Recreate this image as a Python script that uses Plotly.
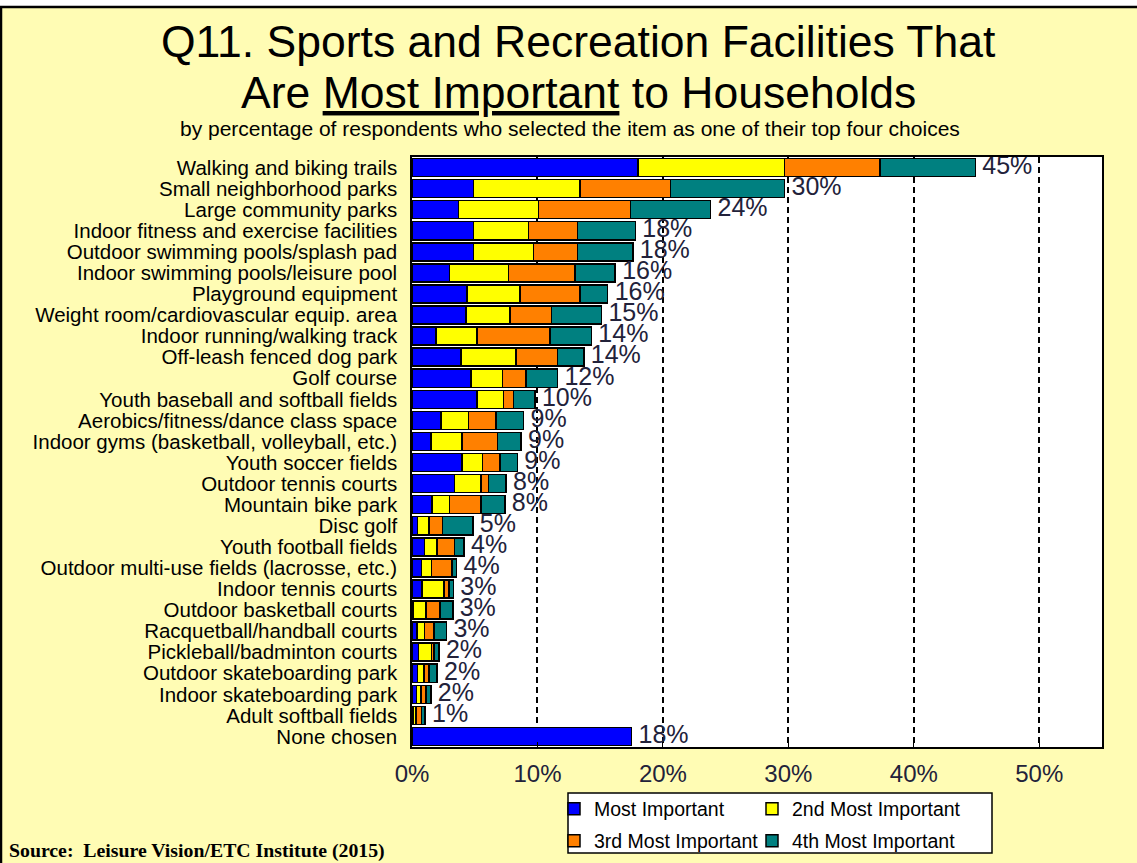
import plotly.graph_objects as go

# facilities, top to bottom
facilities = [
    "Walking and biking trails",
    "Small neighborhood parks",
    "Large community parks",
    "Indoor fitness and exercise facilities",
    "Outdoor swimming pools/splash pad",
    "Indoor swimming pools/leisure pool",
    "Playground equipment",
    "Weight room/cardiovascular equip. area",
    "Indoor running/walking track",
    "Off-leash fenced dog park",
    "Golf course",
    "Youth baseball and softball fields",
    "Aerobics/fitness/dance class space",
    "Indoor gyms (basketball, volleyball, etc.)",
    "Youth soccer fields",
    "Outdoor tennis courts",
    "Mountain bike park",
    "Disc golf",
    "Youth football fields",
    "Outdoor multi-use fields (lacrosse, etc.)",
    "Indoor tennis courts",
    "Outdoor basketball courts",
    "Racquetball/handball courts",
    "Pickleball/badminton courts",
    "Outdoor skateboarding park",
    "Indoor skateboarding park",
    "Adult softball fields",
    "None chosen",
]

most = [18.0, 4.9, 3.7, 4.9, 4.9, 3.0, 4.4, 4.3, 1.9, 3.9, 4.7, 5.2, 2.3, 1.5,
        4.0, 3.4, 1.6, 0.45, 1.0, 0.75, 0.8, 0.1, 0.4, 0.5, 0.45, 0.35, 0.1, 17.5]
second = [11.7, 8.5, 6.4, 4.4, 4.8, 4.7, 4.2, 3.5, 3.3, 4.4, 2.5, 2.1, 2.2, 2.5,
          1.6, 2.1, 1.4, 0.9, 1.0, 0.8, 1.75, 1.0, 0.6, 1.05, 0.5, 0.35, 0.2, None]
third = [7.6, 7.2, 7.3, 3.9, 3.5, 5.3, 4.8, 3.3, 5.8, 3.3, 1.9, 0.8, 2.2, 2.8,
         1.4, 0.6, 2.5, 1.1, 1.4, 1.65, 0.4, 1.15, 0.75, 0.2, 0.4, 0.4, 0.45, None]
fourth = [7.6, 9.1, 6.4, 4.6, 4.4, 3.2, 2.2, 4.0, 3.3, 2.1, 2.5, 1.7, 2.2, 1.9,
          1.4, 1.4, 1.9, 2.4, 0.75, 0.35, 0.35, 1.0, 1.0, 0.4, 0.65, 0.4, 0.3, None]
total_labels = ["45%", "30%", "24%", "18%", "18%", "16%", "16%", "15%", "14%", "14%",
                "12%", "10%", "9%", "9%", "9%", "8%", "8%", "5%", "4%", "4%", "3%",
                "3%", "3%", "2%", "2%", "2%", "1%", "18%"]

x_ticks = [0, 10, 20, 30, 40, 50]
x_tick_text = ["0%", "10%", "20%", "30%", "40%", "50%"]

series = [
    ("Most Important", most, "#0000FF"),
    ("2nd Most Important", second, "#FFFF00"),
    ("3rd Most Important", third, "#FF8000"),
    ("4th Most Important", fourth, "#008080"),
]

totals = [sum(v for v in vals if v is not None)
          for vals in zip(most, second, third, fourth)]


# page coords -> paper coords (plot area 412..1102 x 157..747)
def px(x):
    return (x - 412) / 690


def py(y):
    return (747 - y) / 590


fig = go.Figure()

legend_names = ["legend", "legend2", "legend3", "legend4"]
for (name, vals, color), leg in zip(series, legend_names):
    fig.add_trace(go.Bar(y=facilities, x=vals, name=name, orientation="h",
                         marker=dict(color=color, line=dict(color="black", width=1.5)),
                         legend=leg, hoverinfo="skip"))

# percentage at the end of each bar
fig.add_trace(go.Scatter(y=facilities, x=totals, text=[" " + t for t in total_labels],
                         mode="text", textposition="middle right", showlegend=False,
                         textfont=dict(size=25, color="#22223a"), hoverinfo="skip"))

yellow = "#FFFCB4"
shapes = [
    dict(type="rect", xref="paper", yref="paper", x0=px(1), x1=px(1150),
         y0=py(880), y1=py(7), fillcolor=yellow, line=dict(color="black", width=2.5),
         layer="below"),
    dict(type="rect", xref="paper", yref="paper", x0=0, x1=1, y0=0, y1=1,
         fillcolor="white", line=dict(width=0), layer="below"),
    dict(type="rect", xref="paper", yref="paper", x0=px(568), x1=px(992),
         y0=py(853), y1=py(793), fillcolor="white", line=dict(color="black", width=1.5),
         layer="below"),
]

annotations = [
    dict(text="Q11. Sports and Recreation Facilities That", x=px(578), y=py(41),
         font=dict(size=44.5, color="black")),
    dict(text="Are <u>Most Important</u> to Households", x=px(578), y=py(92),
         font=dict(size=44.5, color="black")),
    dict(text="by percentage of respondents who selected the item as one of their top four choices",
         x=px(570), y=py(128), font=dict(size=21, color="black")),
    dict(text="<b>Source:  Leisure Vision/ETC Institute (2015)</b>", x=px(7), y=py(851),
         xanchor="left", font=dict(size=19.8, color="black",
                                   family="Liberation Serif, Times New Roman, serif")),
]
for a in annotations:
    a.update(xref="paper", yref="paper", showarrow=False)
    a.setdefault("xanchor", "center")
    a["yanchor"] = "middle"

legend_style = dict(orientation="h", xanchor="left", yanchor="middle",
                    bgcolor="rgba(0,0,0,0)", borderwidth=0,
                    font=dict(size=19.5, color="black"), itemwidth=30)

fig.update_layout(
    barmode="stack",
    bargap=0.14,
    width=1137,
    height=863,
    margin=dict(l=412, r=35, t=157, b=116, autoexpand=False),
    paper_bgcolor="white",
    plot_bgcolor="white",
    font=dict(family="Liberation Sans, Arial, sans-serif", color="black"),
    shapes=shapes,
    annotations=annotations,
    legend=dict(x=px(554), y=py(809), **legend_style),
    legend2=dict(x=px(752), y=py(809), **legend_style),
    legend3=dict(x=px(554), y=py(841), **legend_style),
    legend4=dict(x=px(752), y=py(841), **legend_style),
    xaxis=dict(range=[0, 55], tickmode="array", tickvals=x_ticks, ticktext=x_tick_text,
               tickfont=dict(size=24, color="#22223a"), showgrid=True,
               gridcolor="black", gridwidth=1.5, griddash="6px,4px",
               showline=True, linecolor="black", linewidth=1.5, mirror=True,
               ticks="inside", ticklen=5, tickcolor="black", ticklabelstandoff=4,
               zeroline=False),
    yaxis=dict(range=[len(facilities) - 0.5, -0.5], tickmode="linear", tick0=0, dtick=1,
               tickfont=dict(size=20.5, color="black"),
               showline=True, linecolor="black", linewidth=1.5, mirror=True,
               ticks="", ticklabelstandoff=9),
)

fig.write_html("out.html", config={"displayModeBar": False},
               post_script="document.body.style.margin='0';")
